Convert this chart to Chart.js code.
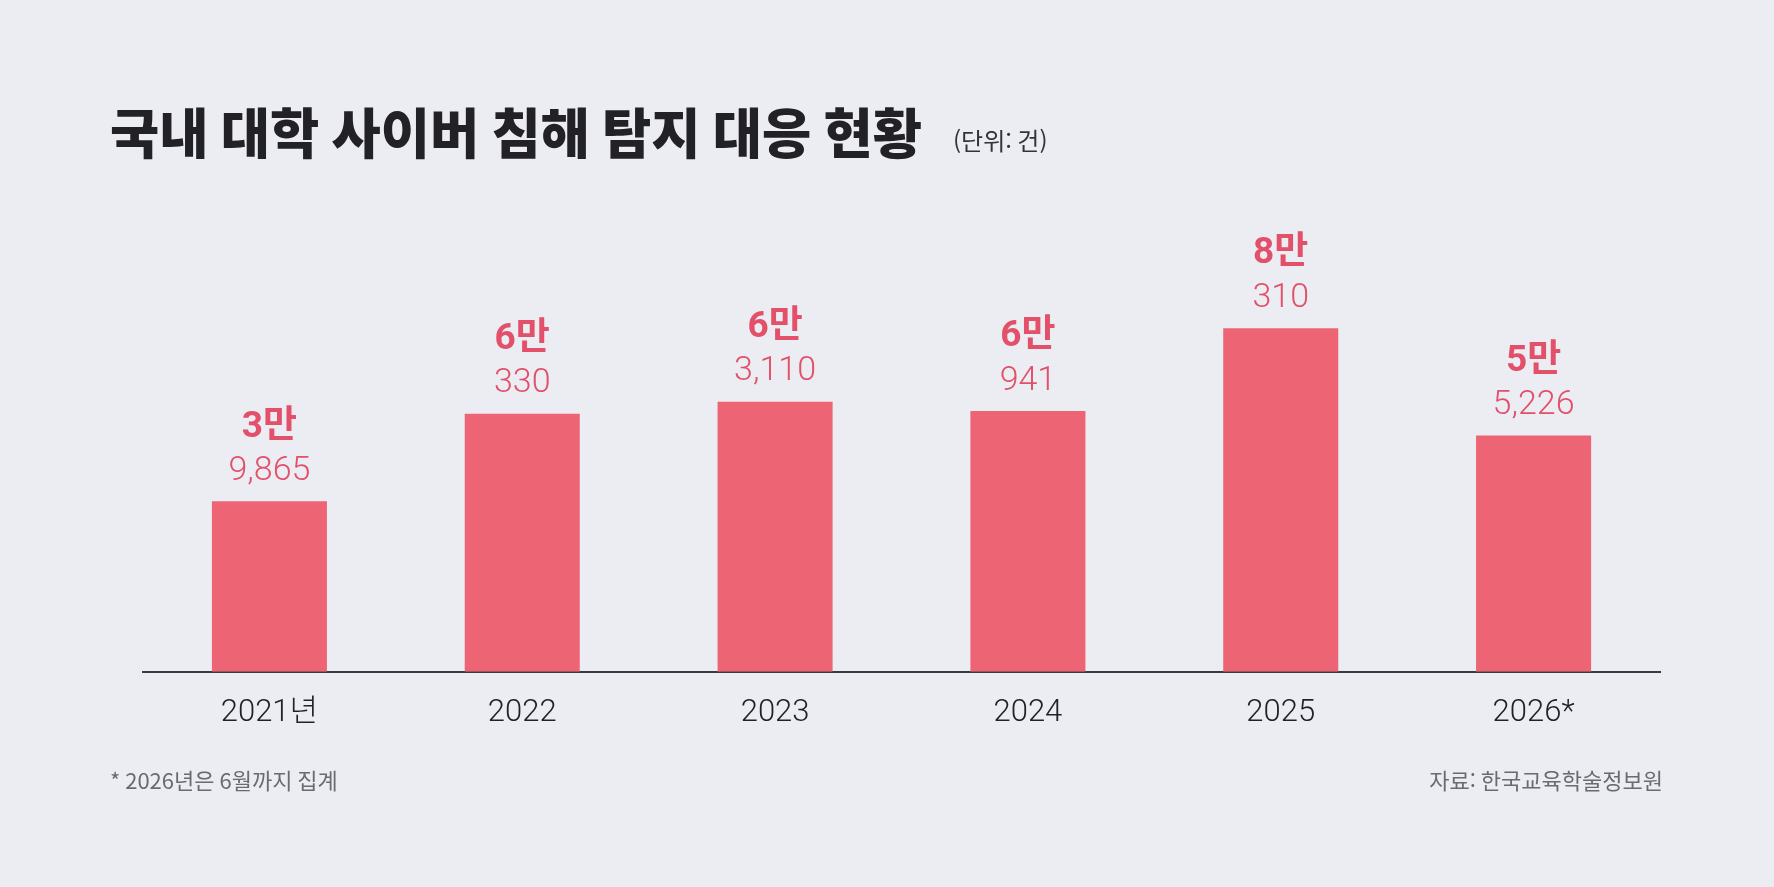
<!DOCTYPE html>
<html lang="ko">
<head>
<meta charset="utf-8">
<title>국내 대학 사이버 침해 탐지 대응 현황</title>
<script src="https://cdn.jsdelivr.net/npm/chart.js@4/dist/chart.umd.min.js"></script>
<style>
  html, body { margin: 0; padding: 0; background: #ECEDF3; }
  #wrap { width: 1774px; height: 887px; position: relative; }
</style>
</head>
<body>
<div id="wrap"><canvas id="chart" width="1774" height="887"></canvas></div>
<script>
// data
const years = ['2021년', '2022', '2023', '2024', '2025', '2026*'];
const detections = [39865, 60330, 63110, 60941, 80310, 55226];

const titleText = '국내 대학 사이버 침해 탐지 대응 현황';
const unitText = '(단위: 건)';
const noteText = '* 2026년은 6월까지 집계';
const sourceText = '자료: 한국교육학술정보원';

const BAR = '#ED6474';
const LABEL = '#E2506A';
const NUM_FONT = "Roboto, 'Noto Sans CJK KR', sans-serif";
const KR_FONT = "'Noto Sans CJK KR', 'Noto Sans', sans-serif";

// split a count into "N만" and the remainder, e.g. 39865 -> 3만 / 9,865
function splitMan(v) {
  const man = Math.floor(v / 10000);
  const rest = v % 10000;
  return [man + '만', rest.toLocaleString('en-US')];
}

const barLabels = {
  id: 'barLabels',
  afterDatasetsDraw(chart) {
    const ctx = chart.ctx;
    const meta = chart.getDatasetMeta(0);
    ctx.save();
    ctx.fillStyle = LABEL;
    ctx.textAlign = 'center';
    ctx.textBaseline = 'middle';
    meta.data.forEach((bar, i) => {
      const [top, bottom] = splitMan(detections[i]);
      ctx.font = "bold 37px " + NUM_FONT;
      ctx.fillText(top, bar.x, bar.y - 74);
      ctx.font = "300 34px " + NUM_FONT;
      ctx.fillText(bottom, bar.x, bar.y - 30);
    });
    ctx.restore();
  }
};

const textLayer = {
  id: 'textLayer',
  afterDraw(chart) {
    const ctx = chart.ctx;
    ctx.save();
    ctx.textBaseline = 'middle';

    // title, squeezed a little to the condensed look of the original
    ctx.fillStyle = '#222226';
    ctx.font = "900 54px " + KR_FONT;
    const w = ctx.measureText(titleText).width;
    const sx = Math.min(1, 812 / w);
    ctx.save();
    ctx.translate(110, 133);
    ctx.scale(sx, 1);
    ctx.textAlign = 'left';
    ctx.fillText(titleText, 0, 0);
    ctx.restore();

    ctx.fillStyle = '#333338';
    ctx.font = "400 24px " + KR_FONT;
    ctx.textAlign = 'left';
    ctx.fillText(unitText, 953, 141);

    ctx.fillStyle = '#6A6B72';
    ctx.font = "400 22px " + KR_FONT;
    ctx.fillText(noteText, 110, 781);
    ctx.textAlign = 'right';
    ctx.fillText(sourceText, 1663, 781);
    ctx.restore();
  }
};

new Chart(document.getElementById('chart'), {
  type: 'bar',
  data: {
    labels: years,
    datasets: [{
      data: detections,
      backgroundColor: BAR,
      borderWidth: 0,
      categoryPercentage: 1,
      barPercentage: 0.455
    }]
  },
  options: {
    responsive: false,
    animation: false,
    layout: { padding: { top: 244, left: 143, right: 114, bottom: 132 } },
    plugins: {
      legend: { display: false },
      tooltip: { enabled: false }
    },
    scales: {
      x: {
        grid: { display: false, drawTicks: false },
        border: { display: true, color: '#3A3B40', width: 2 },
        ticks: {
          color: '#222226',
          padding: 23,
          font: { family: NUM_FONT, size: 31, weight: '300' }
        }
      },
      y: {
        display: false,
        min: 0,
        max: 100000
      }
    }
  },
  plugins: [barLabels, textLayer]
});
</script>
</body>
</html>
